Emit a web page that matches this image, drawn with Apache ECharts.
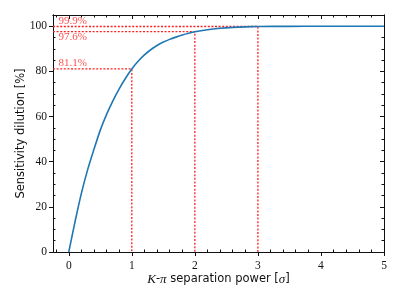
<!DOCTYPE html>
<html><head><meta charset="utf-8">
<script src="https://cdn.jsdelivr.net/npm/echarts@6/dist/echarts.min.js"></script>
<style>html,body{margin:0;padding:0;background:#fff}#c{width:399px;height:299px}</style>
</head><body><div id="c"></div>
<script>
// separation power [sigma]
const sepPower = [0,0.1,0.2,0.3,0.4,0.5,0.6,0.7,0.8,0.9,1.0,1.1,1.2,1.3,1.4,1.5,1.6,1.7,1.8,1.9,2.0,2.2,2.4,2.6,2.8,3.0,3.5,4.0,4.5,5.0];
// sensitivity dilution [%]
const dilution = [0,13.5,26,36.5,45.5,54,61,67,72.3,77,81.1,84.5,87.3,89.6,91.5,93.0,94.2,95.2,96.1,96.9,97.6,98.5,99.1,99.5,99.75,99.9,99.98,100,100,100];
// guide points
const guideX = [1,2,3];
const guideY = [81.1,97.6,99.9];
const guideText = ['81.1%','97.6%','99.9%'];
// ticks
const xTicks = [0,1,2,3,4,5];
const yTicks = [0,20,40,60,80,100];
const xMin = -0.25, xMax = 5, yMin = 0, yMax = 105;

const xMinor = [], yMinor = [];
for (let v = -0.2; v <= 5.001; v += 0.2) { const r = Math.round(v*10)/10; if (xTicks.indexOf(r) < 0) xMinor.push(r); }
for (let v = 5; v <= 105; v += 5) { if (yTicks.indexOf(v) < 0) yMinor.push(v); }

const serif = 'Liberation Serif';
function ax(kind, pos, ticks, len, inside, labels, extra) {
  const o = {type:'value', position:pos,
    min: kind==='x' ? xMin : yMin, max: kind==='x' ? xMax : yMax,
    axisLine: {show: labels!==null, onZero:false, lineStyle:{color:'#111', width:1}},
    splitLine:{show:false},
    axisTick:{show:true, inside:inside, length:len, customValues:ticks, lineStyle:{color:'#111', width:1}},
    axisLabel: labels ? {show:true, customValues:labels, color:'#111', fontFamily:serif, fontSize:11.5, margin: kind==='x'?8:6} : {show:false}
  };
  return Object.assign(o, extra||{});
}

const series = [{
  type:'line', xAxisIndex:0, yAxisIndex:0, showSymbol:false, symbol:'none',
  smooth:0.2, z:3,
  lineStyle:{color:'#1f77b4', width:1.6},
  data: sepPower.map((x,i)=>[x, dilution[i]])
}];
guideX.forEach((gx,i)=>{
  series.push({
    type:'line', xAxisIndex:0, yAxisIndex:0, symbol:'none', z:2,
    lineStyle:{color:'#ff2020', width:1.3, type:[2,1.6]},
    data:[[xMin, guideY[i]], [gx, guideY[i]], [gx, yMin]]
  });
});
series.push({
  type:'scatter', xAxisIndex:0, yAxisIndex:0, symbolSize:1, z:4,
  itemStyle:{color:'rgba(0,0,0,0)'},
  data: guideY.map((gy,i)=>({
    value:[xMin, gy],
    label:{show:true, formatter:guideText[i], position:'right', distance:5,
      offset:[0, i===1 ? 5.5 : -5.5], color:'#ff2020', fontFamily:serif, fontSize:11}
  }))
});

const chart = echarts.init(document.getElementById('c'), null, {renderer:'canvas'});
chart.setOption({
  animation:false,
  backgroundColor:'#fff',
  grid:{left:53, right:15, top:15, bottom:47, containLabel:false},
  xAxis:[
    ax('x','bottom', xTicks, 4, false, xTicks, {
      name:'{i|K}-{i|\u03c0} separation power [{i|\u03c3}]', nameLocation:'middle', nameGap:21, nameMoveOverlap:false,
      nameTextStyle:{color:'#111', fontFamily:'DejaVu Sans', fontSize:11.5, rich:{i:{fontFamily:serif, fontStyle:'italic', fontSize:13, color:'#111'}}}
    }),
    ax('x','bottom', xMinor, 2.5, true, false),
    ax('x','top', xTicks, 4, true, false),
    ax('x','top', xMinor, 2.5, true, false)
  ],
  yAxis:[
    ax('y','left', yTicks, 4, false, yTicks, {
      name:'Sensitivity dilution [%]', nameLocation:'middle', nameGap:26, nameRotate:90, nameMoveOverlap:false,
      nameTextStyle:{color:'#111', fontFamily:'DejaVu Sans', fontSize:11.5}
    }),
    ax('y','left', yMinor, 2.5, true, false),
    ax('y','right', yTicks, 4, true, false),
    ax('y','right', yMinor, 2.5, true, false)
  ],
  series: series
});
</script></body></html>
